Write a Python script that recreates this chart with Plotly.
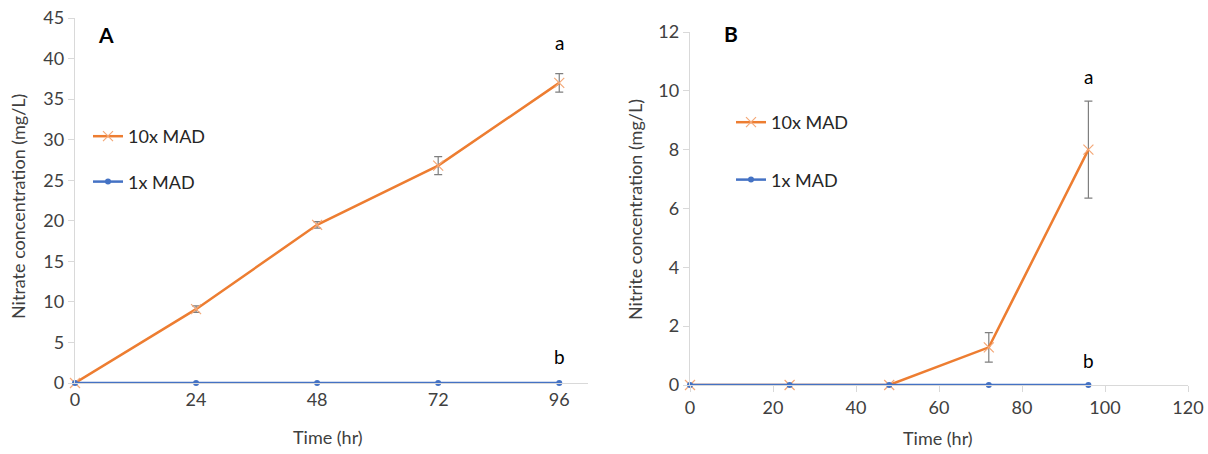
import plotly.graph_objects as go

# Panel A: nitrate
time_a = [0, 24, 48, 72, 96]
nitrate_10x = [0.0, 9.1, 19.5, 26.8, 37.0]
nitrate_10x_err = [0.0, 0.4, 0.4, 1.1, 1.15]
nitrate_1x = [0.0, 0.0, 0.0, 0.0, 0.0]

# Panel B: nitrite
time_b = [0, 24, 48, 72, 96]
nitrite_10x = [0.0, 0.0, 0.0, 1.28, 8.0]
nitrite_10x_err = [0.0, 0.0, 0.0, 0.5, 1.65]
nitrite_1x = [0.0, 0.0, 0.0, 0.0, 0.0]

ticks_a = [0, 24, 48, 72, 96]
ticks_b = [0, 20, 40, 60, 80, 100, 120]

ORANGE = "#ED7D31"
BLUE = "#4472C4"
GREY = "#7F7F7F"
AXIS = "#D9D9D9"
TEXT = "#404040"
FONT = "Lato"

W, H = 1208, 454


def px_x(v):
    return v / W


def px_y(v):
    return 1 - v / H


fig = go.Figure()


def add_panel(xs, y10, err10, y1, xa, ya, legend):
    fig.add_trace(go.Scatter(
        x=xs, y=y10, name="10x MAD", mode="lines+markers",
        line=dict(color=ORANGE, width=2.5),
        marker=dict(symbol="x-thin", size=10, line=dict(color="#F4A877", width=1.2)),
        error_y=dict(type="data", array=err10, color=GREY, thickness=1.2, width=4),
        xaxis=xa, yaxis=ya, legend=legend, legendgroup=legend + "10x",
        cliponaxis=False,
    ))
    fig.add_trace(go.Scatter(
        x=xs, y=y1, name="1x MAD", mode="lines+markers",
        line=dict(color=BLUE, width=2.5),
        marker=dict(symbol="circle", size=6, color=BLUE),
        xaxis=xa, yaxis=ya, legend=legend, legendgroup=legend + "1x",
        cliponaxis=False,
    ))


add_panel(time_a, nitrate_10x, nitrate_10x_err, nitrate_1x, "x", "y", "legend")
add_panel(time_b, nitrite_10x, nitrite_10x_err, nitrite_1x, "x2", "y2", "legend2")

tickfont = dict(family=FONT, size=18, color=TEXT)
titlefont = dict(family=FONT, size=18, color=TEXT)
legendfont = dict(family=FONT, size=18, color="#262626")

axis_common = dict(showgrid=False, zeroline=False, showline=True, linecolor=AXIS,
                   linewidth=1.3, tickfont=tickfont, ticklen=6, tickcolor=AXIS,
                   automargin=False)

fig.update_layout(
    width=W, height=H,
    margin=dict(l=0, r=0, t=0, b=0),
    paper_bgcolor="white", plot_bgcolor="white",
    showlegend=True,
    xaxis=dict(domain=[px_x(75), px_x(588)], range=[0, 101.7], tickvals=ticks_a,
               ticks="", anchor="y", **axis_common),
    yaxis=dict(domain=[px_y(383), px_y(18)], range=[0, 45], dtick=5, ticks="outside",
               anchor="x", **axis_common),
    xaxis2=dict(domain=[px_x(690), px_x(1188)], range=[0, 120], tickvals=ticks_b,
                ticks="outside", anchor="y2", **axis_common),
    yaxis2=dict(domain=[px_y(385), px_y(32)], range=[0, 12], dtick=2, ticks="outside",
                anchor="x2", **axis_common),
    legend=dict(x=px_x(88), y=px_y(118), xanchor="left", yanchor="top",
                font=legendfont, tracegroupgap=19, itemwidth=30,
                bgcolor="rgba(0,0,0,0)"),
    legend2=dict(x=px_x(731), y=px_y(104), xanchor="left", yanchor="top",
                 font=legendfont, tracegroupgap=31, itemwidth=30,
                 bgcolor="rgba(0,0,0,0)"),
)


def label(text, x, y, size, color, angle=0, xref="paper", yref="paper"):
    return dict(text=text, x=x, y=y, xref=xref, yref=yref, showarrow=False,
                xanchor="center", yanchor="middle", textangle=angle,
                font=dict(family=FONT, size=size, color=color))


annotations = [
    # axis titles
    label("Time (hr)", px_x(328), px_y(437), 18, TEXT),
    label("Nitrate concentration (mg/L)", px_x(18), px_y(207), 18, TEXT, angle=-90),
    label("Time (hr)", px_x(938), px_y(438), 18, TEXT),
    label("Nitrite concentration (mg/L)", px_x(635), px_y(210), 18, TEXT, angle=-90),
    # panel letters
    label("<b>A</b>", px_x(106), px_y(34), 21, "black"),
    label("<b>B</b>", px_x(731), px_y(33), 21, "black"),
    # significance letters
    label("a", 96, nitrate_10x[-1] + 5.0, 19, "black", xref="x", yref="y"),
    label("b", 96, nitrate_1x[-1] + 3.3, 19, "black", xref="x", yref="y"),
    label("a", 96, 10.5, 19, "black", xref="x2", yref="y2"),
    label("b", 96, nitrite_1x[-1] + 0.85, 19, "black", xref="x2", yref="y2"),
]
fig.update_layout(annotations=annotations)

fig.write_html("out.html")
